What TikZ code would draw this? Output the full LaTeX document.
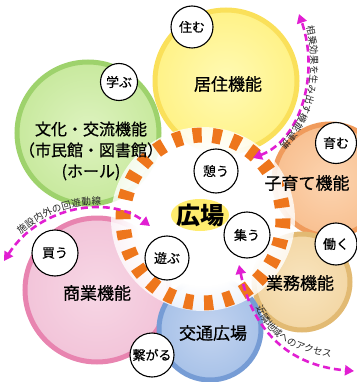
\documentclass[tikz,border=0pt]{standalone}
\usepackage{fontspec}
\setmainfont{Noto Sans CJK JP}
\newfontfamily\labfont[FakeBold=0.7]{Noto Sans CJK JP}
\newfontfamily\verbfont[FakeBold=0.4]{Noto Sans CJK JP}
\usetikzlibrary{arrows.meta,decorations.text,fadings}

\definecolor{ringor}{RGB}{238,118,28}
\definecolor{mag}{RGB}{225,30,210}
\definecolor{ylI}{RGB}{255,250,180}\definecolor{ylF}{RGB}{255,242,135}\definecolor{ylO}{RGB}{250,224,90}
\definecolor{grI}{RGB}{222,243,192}\definecolor{grF}{RGB}{200,233,158}\definecolor{grO}{RGB}{158,210,108}
\definecolor{pkI}{RGB}{247,215,229}\definecolor{pkF}{RGB}{242,196,217}\definecolor{pkO}{RGB}{232,132,176}
\definecolor{blI}{RGB}{195,212,240}\definecolor{blF}{RGB}{168,194,232}\definecolor{blO}{RGB}{118,156,213}
\definecolor{orI}{RGB}{252,212,176}\definecolor{orF}{RGB}{248,192,145}\definecolor{orO}{RGB}{240,155,92}
\definecolor{tnI}{RGB}{248,228,190}\definecolor{tnF}{RGB}{243,215,165}\definecolor{tnO}{RGB}{226,186,115}
\definecolor{glowy}{RGB}{255,236,110}

\pgfdeclareradialshading{cglow}{\pgfpointorigin}{color(0bp)=(white); color(18bp)=(white); color(50bp)=(black)}
\pgfdeclarefading{cfade}{\pgfuseshading{cglow}}
\pgfdeclareradialshading{yglow}{\pgfpointorigin}{color(0bp)=(white); color(34bp)=(white); color(50bp)=(black)}
\pgfdeclarefading{yfade}{\pgfuseshading{yglow}}

\newcommand\arrfont{\fontsize{9.5}{9.5}\selectfont}

\begin{document}
\begin{tikzpicture}[x=1pt,y=-1pt,
  bigc/.style={circle, inner sep=0pt, line width=5pt},
  smallc/.style={circle, draw=black, line width=1.1pt, fill=white, inner sep=0pt, font=\verbfont\fontsize{13}{13}\selectfont},
  lab/.style={inner sep=0pt, font=\labfont\fontsize{17}{17}\selectfont},
  magarrow/.style={draw=mag, line width=2.6pt, dash pattern=on 7pt off 4pt,
    arrows={Triangle[length=9pt,width=10pt]-Triangle[length=9pt,width=10pt]}},
  arrtext/.style={decorate, decoration={text along path, text color=black!85}}
]
\useasboundingbox (0,0) rectangle (356,382);

% big function circles
\node[bigc, minimum size=142pt, draw=grO, inner color=grI, outer color=grF] (green) at (88,133) {};
\node[bigc, minimum size=142pt, draw=ylO, inner color=ylI, outer color=ylF] (yellow) at (226,81) {};
\node[bigc, minimum size=144pt, draw=pkO, inner color=pkI, outer color=pkF] (pink) at (97,290) {};
\node[bigc, minimum size=112pt, draw=orO, inner color=orI, outer color=orF] (orange) at (330,180) {};
\node[bigc, minimum size=96pt, draw=tnO, inner color=tnI, outer color=tnF] (tan) at (302,282) {};
\node[bigc, minimum size=102pt, draw=blO, inner color=blI, outer color=blF] (blue) at (210,329) {};

% central plaza glow and ring
\coordinate (plaza) at (203,219);
\fill[white, path fading=cfade] (plaza) circle (92);
\begin{scope}[even odd rule]
  \clip (0,0) rectangle (356,382) (261,175) rectangle (282,194);
  \draw[ringor, line width=15pt, dash pattern=on 9pt off 10.8pt] (plaza) ellipse [x radius=80, y radius=84];
\end{scope}

% magenta arrows
\coordinate (rA) at (253,158); \coordinate (rB) at (299,14);
\coordinate (lA) at (4,261);   \coordinate (lB) at (150,226);
\coordinate (bA) at (239,265); \coordinate (bB) at (354,371);
\draw[magarrow] (rA) .. controls (300,140) and (320,75) .. (rB);
\draw[magarrow] (lA) .. controls (40,205) and (110,195) .. (lB);
\draw[magarrow] (bA) .. controls (250,320) and (280,365) .. (bB);

\path[arrtext, decoration={text={|\arrfont|相乗効果を生み出す機能連携}, text align={left indent=14pt}, raise=3.5pt}]
  (rB) .. controls (320,75) and (300,140) .. (rA);
\path[arrtext, decoration={text={|\arrfont|施設内外の回遊動線}, text align={left indent=30pt}, raise=4pt}]
  (lA) .. controls (40,205) and (110,195) .. (lB);
\coordinate (tS) at (250,292); \coordinate (tE) at (350,362);
\path[arrtext, decoration={text={|\arrfont|近隣地域へのアクセス}, text align={left indent=17pt}, raise=0.5pt}]
  (tS) .. controls (264,342) and (292,352) .. (tE);

% small verb circles
\node[smallc, minimum size=42pt] (sumu) at (192,27) {住む};
\node[smallc, minimum size=37pt] (manabu) at (119,82) {学ぶ};
\node[smallc, minimum size=41pt] (hagukumu) at (336,143) {育む};
\node[smallc, minimum size=44pt] (ikou) at (216,171) {憩う};
\node[smallc, minimum size=46pt] (tsudou) at (247,235) {集う};
\node[smallc, minimum size=42pt] (hataraku) at (336,244) {働く};
\node[smallc, minimum size=46pt] (kau) at (55,253) {買う};
\node[smallc, minimum size=44pt] (asobu) at (167,258) {遊ぶ};
\node[smallc, minimum size=44pt] (tsunagaru) at (152,355) {繋がる};

% function labels
\node[lab] (lyellow) at (228,84) {居住機能};
\node[lab, font=\labfont\fontsize{16}{21}\selectfont, align=center] (lgreen) at (91,151)
  {文化・交流機能\\（市民館・図書館）\\(ホール)};
\node[lab] (lorange) at (307,183) {子育て機能};
\node[lab] (ltan) at (300,283) {業務機能};
\node[lab] (lpink) at (97,293) {商業機能};
\node[lab] (lblue) at (213,333) {交通広場};
\fill[glowy, path fading=yfade] (200,215) ellipse [x radius=29, y radius=16];
\node[lab, font=\fontsize{24}{24}\selectfont\bfseries] (lplaza) at (200,215) {広場};
\end{tikzpicture}
\end{document}
